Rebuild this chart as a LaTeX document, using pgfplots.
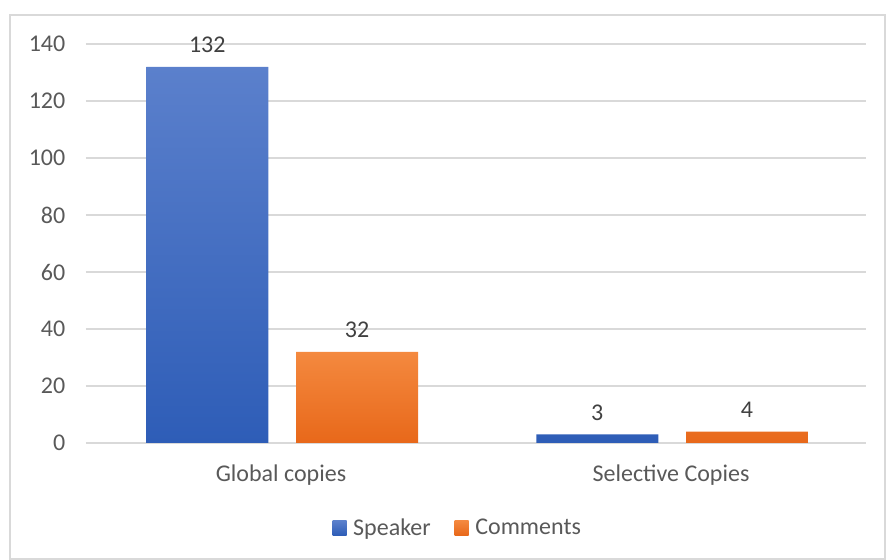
\documentclass[border=0pt]{standalone}
\usepackage{pgfplots}
\pgfplotsset{compat=1.18}
\usepackage{fontspec}
\setmainfont{Carlito}
\definecolor{gridc}{HTML}{D9D9D9}
\definecolor{txt}{HTML}{595959}
\definecolor{lbl}{HTML}{404040}
\definecolor{bluetop}{HTML}{5B80CC}
\definecolor{bluebot}{HTML}{2E5DB7}
\definecolor{orgtop}{HTML}{F4893F}
\definecolor{orgbot}{HTML}{E8681A}
\begin{document}
\begin{tikzpicture}
\useasboundingbox (0pt,0pt) rectangle (664.5pt,420pt);
\draw[gridc, line width=1.2pt] (7.5pt,408.75pt) rectangle (663.75pt,0.75pt);
\begin{axis}[
  at={(64.5pt,87.75pt)}, anchor=south west,
  scale only axis, width=585pt, height=299.25pt,
  xmin=-0.5, xmax=1.5, ymin=0, ymax=140,
  ytick={0,20,...,140},
  xtick={0,1}, xticklabels={Global copies, Selective Copies},
  major tick length=0pt,
  axis line style={draw=none},
  ymajorgrids, grid style={gridc, line width=1pt},
  ticklabel style={font=\fontsize{18}{22}\selectfont, text=txt},
  /pgf/number format/assume math mode=true,
  yticklabel style={xshift=-12pt},
  xticklabel style={yshift=-13pt},
  ybar, bar width=0.313,
  legend style={at={(0.477,-0.213)}, anchor=center, draw=none, fill=none,
    legend columns=2, font=\fontsize{18}{22}\selectfont, text=txt,
    /tikz/every even column/.append style={column sep=16pt},
    /tikz/every odd column/.append style={column sep=3pt}},
  legend image code/.code={\fill[#1] (0pt,-5.5pt) rectangle (10.5pt,5.5pt);},
  nodes near coords,
  every node near coord/.append style={font=\fontsize{18}{22}\selectfont, text=lbl, anchor=south, yshift=7pt},
  clip=false,
]
\addplot[draw=none, top color=bluetop, bottom color=bluebot, bar shift=-0.189] coordinates {(0,132) (1,3)};
\addplot[draw=none, top color=orgtop, bottom color=orgbot, bar shift=0.195] coordinates {(0,32) (1,4)};
\legend{Speaker, Comments}
\end{axis}
\end{tikzpicture}
\end{document}
